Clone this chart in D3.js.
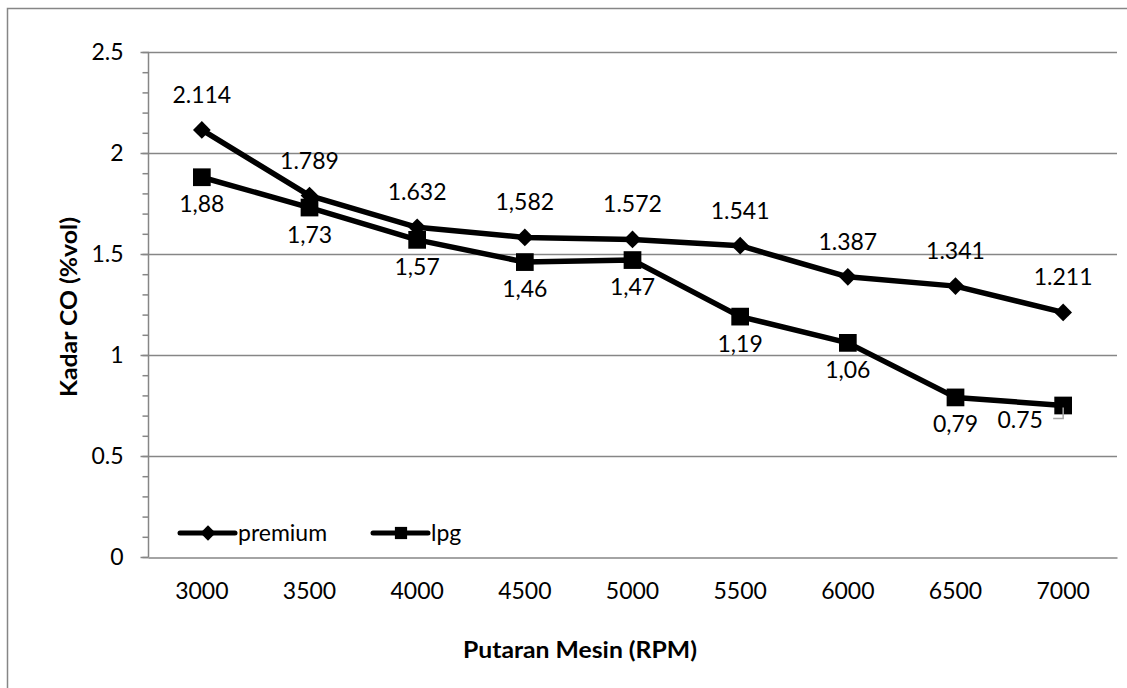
<!DOCTYPE html>
<html>
<head>
<meta charset="utf-8">
<script src="https://cdn.jsdelivr.net/npm/d3@7"></script>
<style>
  html, body { margin: 0; padding: 0; background: #fff; }
  svg { display: block; font-family: Lato, "Open Sans", sans-serif; }
</style>
</head>
<body>
<svg id="chart" width="1127" height="688"></svg>
<script>
const RPM = ["3000", "3500", "4000", "4500", "5000", "5500", "6000", "6500", "7000"];
const PREMIUM = [2.114, 1.789, 1.632, 1.582, 1.572, 1.541, 1.387, 1.341, 1.211];
const LPG = [1.88, 1.73, 1.57, 1.46, 1.47, 1.19, 1.06, 0.79, 0.75];
// labels as printed on the original (mixed decimal separators)
const PREMIUM_LABELS = ["2.114", "1.789", "1.632", "1,582", "1.572", "1.541", "1.387", "1.341", "1.211"];
const LPG_LABELS = ["1,88", "1,73", "1,57", "1,46", "1,47", "1,19", "1,06", "0,79", "0.75"];
const Y_TICKS = [0, 0.5, 1, 1.5, 2, 2.5];

const svg = d3.select("#chart");
const W = 1127, H = 688;
const plot = { left: 148, right: 1117, top: 52, bottom: 557 };
const grey = "#868686";
const fontSize = 23;

svg.append("rect").attr("width", W).attr("height", H).attr("fill", "#fff");
// outer chart border (only top/left visible in the crop)
svg.append("rect")
  .attr("x", 7.5).attr("y", 8.5)
  .attr("width", W + 20).attr("height", H + 20)
  .attr("fill", "none").attr("stroke", grey).attr("stroke-width", 1.5);

const x = d3.scaleBand().domain(RPM).range([plot.left, plot.right]).padding(0);
const y = d3.scaleLinear().domain([0, 2.5]).range([plot.bottom, plot.top]);
const cx = (d) => x(d) + x.bandwidth() / 2;

// gridlines
svg.append("g")
  .selectAll("line")
  .data(Y_TICKS.filter((v) => v > 0))
  .join("line")
  .attr("x1", plot.left).attr("x2", plot.right)
  .attr("y1", (d) => Math.round(y(d)) + 0.5).attr("y2", (d) => Math.round(y(d)) + 0.5)
  .attr("stroke", grey).attr("stroke-width", 1.5);

// y axis with minor ticks
const yMinor = d3.axisLeft(y).ticks(25).tickSize(6).tickFormat("");
const gMinor = svg.append("g").attr("transform", `translate(${plot.left + 0.5},0)`).call(yMinor);
gMinor.selectAll("line").attr("stroke", grey).attr("stroke-width", 1.5);
gMinor.select(".domain").remove();

const yAxis = d3.axisLeft(y).tickValues(Y_TICKS).tickSize(8).tickPadding(17).tickFormat((d) => String(d));
const gY = svg.append("g").attr("transform", `translate(${plot.left + 0.5},0)`).call(yAxis);
gY.select(".domain").attr("stroke", grey).attr("stroke-width", 1.5).attr("d", `M0,${plot.top}V${plot.bottom}`);
gY.selectAll(".tick line").attr("stroke", grey).attr("stroke-width", 1.5);
gY.selectAll(".tick text")
  .attr("font-size", fontSize).attr("font-family", "Lato, sans-serif").attr("fill", "#000");

// x axis
const xAxis = d3.axisBottom(x).tickSize(0).tickPadding(25);
const gX = svg.append("g").attr("transform", `translate(0,${Math.round(plot.bottom) + 0.5})`).call(xAxis);
gX.select(".domain").attr("stroke", grey).attr("stroke-width", 1.5);
gX.selectAll(".tick text")
  .attr("font-size", fontSize).attr("font-family", "Lato, sans-serif").attr("fill", "#000");

// axis titles
svg.append("text")
  .attr("x", 580).attr("y", 658)
  .attr("text-anchor", "middle")
  .attr("font-size", 22).attr("font-weight", "bold")
  .attr("textLength", 234).attr("lengthAdjust", "spacingAndGlyphs")
  .text("Putaran Mesin (RPM)");

svg.append("text")
  .attr("transform", "translate(77,307) rotate(-90)")
  .attr("text-anchor", "middle")
  .attr("font-size", 22).attr("font-weight", "bold")
  .attr("textLength", 180).attr("lengthAdjust", "spacingAndGlyphs")
  .text("Kadar CO (%vol)");

// series
const line = d3.line().x((d) => cx(d.k)).y((d) => y(d.v));
const premium = RPM.map((k, i) => ({ k, v: PREMIUM[i], label: PREMIUM_LABELS[i] }));
const lpg = RPM.map((k, i) => ({ k, v: LPG[i], label: LPG_LABELS[i] }));

const diamond = d3.symbol().type(d3.symbolDiamond2);
const square = d3.symbol().type(d3.symbolSquare2);

function drawSeries(data, sym, size) {
  const g = svg.append("g");
  g.append("path")
    .datum(data)
    .attr("d", line)
    .attr("fill", "none").attr("stroke", "#000").attr("stroke-width", 5.5)
    .attr("stroke-linejoin", "round");
  g.selectAll("path.mark")
    .data(data)
    .join("path")
    .attr("class", "mark")
    .attr("d", sym.size(size)())
    .attr("transform", (d) => `translate(${cx(d.k)},${y(d.v)})`)
    .attr("fill", "#000");
  return g;
}

drawSeries(lpg, square, 400);
drawSeries(premium, diamond, 200);

// data labels
svg.append("g")
  .selectAll("text")
  .data(premium)
  .join("text")
  .attr("x", (d) => cx(d.k))
  .attr("y", (d) => y(d.v) - 27)
  .attr("text-anchor", "middle")
  .attr("font-size", fontSize)
  .text((d) => d.label);

const lastK = RPM[RPM.length - 1];
svg.append("g")
  .selectAll("text")
  .data(lpg)
  .join("text")
  .attr("x", (d) => cx(d.k) - (d.k === lastK ? 43 : 0))
  .attr("y", (d) => y(d.v) + (d.k === lastK ? 22 : 35))
  .attr("text-anchor", "middle")
  .attr("font-size", fontSize)
  .text((d) => d.label);

// small leader line left by the moved label
const lx = cx(lastK), ly = y(LPG[LPG.length - 1]);
svg.append("path")
  .attr("d", `M${lx - 10},${ly + 13}H${lx}V${ly + 2}`)
  .attr("fill", "none").attr("stroke", "#a6a6a6").attr("stroke-width", 1.5);

// legend
const legend = svg.append("g").attr("transform", "translate(180,533)");
const legendItems = [
  { name: "premium", sym: diamond, size: 150, x0: 0 },
  { name: "lpg", sym: square, size: 190, x0: 193 },
];
legendItems.forEach((it) => {
  const gi = legend.append("g").attr("transform", `translate(${it.x0},0)`);
  gi.append("line").attr("x1", 0).attr("x2", 55).attr("stroke", "#000").attr("stroke-width", 5)
    .attr("stroke-linecap", "round");
  gi.append("path").attr("d", it.sym.size(it.size)()).attr("transform", "translate(28,0)").attr("fill", "#000");
  gi.append("text").attr("x", 58).attr("y", 8).attr("font-size", fontSize).text(it.name);
});
</script>
</body>
</html>
